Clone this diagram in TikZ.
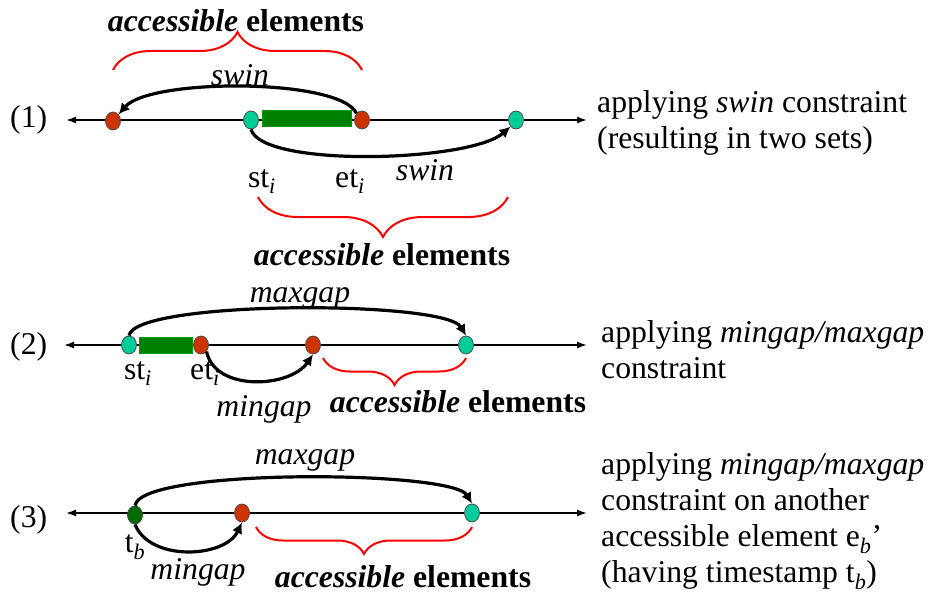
\documentclass[tikz,border=0pt]{standalone}
\usepackage{fontspec}
\setmainfont{Liberation Serif}
\usetikzlibrary{shapes.geometric, arrows.meta, decorations.pathreplacing}
\definecolor{tealdot}{RGB}{0,204,153}
\definecolor{browndot}{RGB}{204,51,0}
\definecolor{bargreen}{RGB}{0,128,0}
\definecolor{darkdot}{RGB}{0,105,0}

\begin{document}
\begin{tikzpicture}[x=1pt, y=-1pt, font=\fontsize{31.7}{36}\selectfont]
	\tikzstyle{dot} = [ellipse, draw=black!70, line width=0.8pt, minimum width=15pt, minimum height=18pt, inner sep=0pt]
	\tikzstyle{stdot} = [dot, fill=tealdot]
	\tikzstyle{etdot} = [dot, fill=browndot]
	\tikzstyle{interval} = [rectangle, fill=bargreen, draw=green!60!black, line width=0.5pt, minimum height=16pt, inner sep=0pt]
	\tikzstyle{axis} = [line width=1.5pt, {Latex[length=10pt,width=7pt]}-{Latex[length=10pt,width=7pt]}]
	\tikzstyle{arrow} = [line width=3.2pt, -{Latex[length=11pt,width=11pt]}]
	\tikzstyle{acc} = [red, line width=2pt, decorate, decoration={brace, amplitude=#1}]
	\tikzstyle{txt} = [inner sep=0pt]
	\tikzstyle{note} = [inner sep=0pt, anchor=north west, align=left]
	\useasboundingbox (0,0) rectangle (929,599);

	% (1) swin constraint
	\node (num1) [txt, anchor=west] at (10,120) {(1)};
	\coordinate (l1) at (66,120);
	\coordinate (r1) at (587,120);
	\draw [axis] (l1) -- (r1);
	\node (bar1) [interval, minimum width=89pt] at (307,118) {};
	\node (a1) [etdot] at (113,121) {};
	\node (st1) [stdot] at (251,120) {};
	\node (et1) [etdot] at (362,120) {};
	\node (b1) [stdot] at (516,120) {};
	\draw [arrow] (et1.north west) .. controls (340,78) and (150,78) .. (a1.north east);
	\draw [arrow] (st1.south) .. controls (262,168) and (470,162) .. (b1.south west);
	\node (swinUp) [txt] at (240,75) {\textit{swin}};
	\node (swinDown) [txt] at (425,170) {\textit{swin}};
	\node (stLbl1) [txt] at (262,182) {st\textsubscript{\textit{i}}};
	\node (etLbl1) [txt] at (350,182) {et\textsubscript{\textit{i}}};
	\draw [acc=38pt] (113,70) -- (362,70);
	\node (accUp) [txt] at (236,21) {\textbf{\textit{accessible} elements}};
	\draw [acc=40pt] (508,197) -- (258,197);
	\node (accDown) [txt] at (382,255) {\textbf{\textit{accessible} elements}};
	\node (note1) [note] at (597,90) {applying \textit{swin} constraint\\(resulting in two sets)};

	% (2) mingap / maxgap
	\node (num2) [txt, anchor=west] at (10,347) {(2)};
	\coordinate (l2) at (64,345);
	\coordinate (r2) at (587,345);
	\draw [axis] (l2) -- (r2);
	\node (bar2) [interval, minimum width=53pt] at (166,345) {};
	\node (st2) [stdot] at (129,345) {};
	\node (et2) [etdot] at (201,345) {};
	\node (m2) [etdot] at (313,345) {};
	\node (x2) [stdot] at (466,345) {};
	\draw [arrow] (st2.north) .. controls (135,300) and (445,300) .. (x2.north);
	\draw [arrow] (et2.south east) .. controls (215,392) and (290,388) .. (m2.south);
	\node (maxLbl2) [txt] at (300,298) {\textit{maxgap}};
	\node (stLbl2) [txt] at (138,374) {st\textsubscript{\textit{i}}};
	\node (etLbl2) [txt] at (205,374) {et\textsubscript{\textit{i}}};
	\node (minLbl2) [txt] at (264,409) {\textit{mingap}};
	\draw [acc=27pt] (466,358) -- (323,358);
	\node (acc2) [txt] at (458,402) {\textbf{\textit{accessible} elements}};
	\node (note2) [note] at (601,320) {applying \textit{mingap/maxgap}\\constraint};

	% (3) another accessible element
	\node (num3) [txt, anchor=west] at (10,520) {(3)};
	\coordinate (l3) at (66,513);
	\coordinate (r3) at (587,513);
	\draw [axis] (l3) -- (r3);
	\node (tb) [dot, fill=darkdot] at (135,515) {};
	\node (m3) [etdot] at (242,513) {};
	\node (x3) [stdot] at (472,513) {};
	\draw [arrow] (tb.north) .. controls (140,468) and (452,470) .. (x3.north);
	\draw [arrow] (tb.south) .. controls (150,562) and (225,558) .. (m3.south);
	\node (maxLbl3) [txt] at (305,460) {\textit{maxgap}};
	\node (tbLbl) [txt] at (135,547) {t\textsubscript{\textit{b}}};
	\node (minLbl3) [txt] at (198,572) {\textit{mingap}};
	\draw [acc=27pt] (472,527) -- (256,527);
	\node (acc3) [txt] at (403,577) {\textbf{\textit{accessible} elements}};
	\node (note3) [note] at (601,452) {applying \textit{mingap/maxgap}\\constraint on another\\accessible element e\textsubscript{\textit{b}}'\\(having timestamp t\textsubscript{\textit{b}})};
\end{tikzpicture}
\end{document}
